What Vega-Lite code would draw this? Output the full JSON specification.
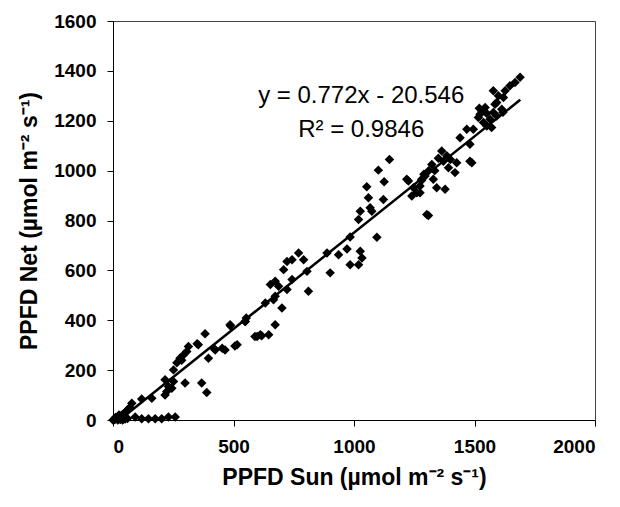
{
  "$schema": "https://vega.github.io/schema/vega-lite/v6.json",
  "autosize": "none",
  "width": 482,
  "height": 399,
  "padding": {"left": 113, "top": 21, "right": 25, "bottom": 87},
  "background": "white",
  "config": {
    "view": {"stroke": "#444", "strokeWidth": 1},
    "font": "Liberation Sans"
  },
  "datasets": {
    "pts": [
      {"sun":0,"net":0},{"sun":3,"net":0},{"sun":6,"net":2},{"sun":10,"net":4},{"sun":14,"net":6},{"sun":18,"net":8},{"sun":22,"net":10},{"sun":26,"net":12},{"sun":30,"net":15},{"sun":35,"net":18},{"sun":40,"net":22},{"sun":45,"net":25},{"sun":50,"net":30},{"sun":55,"net":34},{"sun":60,"net":40},{"sun":65,"net":45},{"sun":70,"net":50},{"sun":20,"net":0},{"sun":30,"net":2},{"sun":40,"net":0},{"sun":50,"net":4},{"sun":60,"net":6},{"sun":10,"net":10},{"sun":25,"net":20},{"sun":38,"net":5},
      {"sun":78,"net":67},{"sun":119,"net":84},{"sun":161,"net":87},{"sun":216,"net":100},{"sun":223,"net":114},{"sun":244,"net":127},{"sun":216,"net":161},{"sun":251,"net":201},{"sun":278,"net":248},{"sun":292,"net":261},{"sun":313,"net":295},{"sun":354,"net":302},{"sun":382,"net":346},{"sun":299,"net":148},{"sun":368,"net":148},{"sun":389,"net":110},{"sun":396,"net":248},{"sun":424,"net":281},{"sun":465,"net":281},{"sun":506,"net":297},{"sun":486,"net":382},{"sun":548,"net":395},{"sun":589,"net":335},{"sun":617,"net":338},
      {"sun":92,"net":12},{"sun":119,"net":5},{"sun":147,"net":5},{"sun":175,"net":5},{"sun":202,"net":5},{"sun":230,"net":12},{"sun":258,"net":12},
      {"sun":230,"net":134},{"sun":251,"net":154},{"sun":265,"net":230},{"sun":306,"net":275},{"sun":285,"net":240},
      {"sun":349,"net":306},{"sun":418,"net":288},{"sun":453,"net":288},{"sun":515,"net":302},{"sun":487,"net":378},{"sun":553,"net":409},{"sun":549,"net":395},{"sun":598,"net":335},{"sun":611,"net":342},{"sun":646,"net":342},{"sun":673,"net":382},{"sun":632,"net":469},{"sun":666,"net":482},{"sun":701,"net":449},{"sun":653,"net":543},{"sun":673,"net":556},{"sun":687,"net":536},{"sun":722,"net":523},{"sun":743,"net":563},{"sun":708,"net":603},{"sun":722,"net":636},{"sun":743,"net":643},{"sun":770,"net":670},{"sun":791,"net":643},{"sun":805,"net":596},{"sun":811,"net":516},{"sun":888,"net":670},{"sun":901,"net":590},
      {"sun":673,"net":496},{"sun":936,"net":663},{"sun":971,"net":686},{"sun":984,"net":734},{"sun":984,"net":623},{"sun":1026,"net":677},{"sun":1033,"net":650},{"sun":1019,"net":623},{"sun":1095,"net":733},{"sun":1019,"net":804},{"sun":1026,"net":837},{"sun":1067,"net":851},{"sun":1074,"net":837},{"sun":1060,"net":891},{"sun":1053,"net":935},{"sun":1122,"net":884},{"sun":1125,"net":955},{"sun":1101,"net":1002},{"sun":1147,"net":1045},{"sun":1226,"net":958},{"sun":1240,"net":898},{"sun":1261,"net":911},{"sun":1274,"net":938},{"sun":1295,"net":978},{"sun":1302,"net":824},{"sun":1280,"net":960},{"sun":1290,"net":985},
      {"sun":1219,"net":965},{"sun":1247,"net":931},{"sun":1274,"net":911},{"sun":1281,"net":965},{"sun":1323,"net":1025},{"sun":1329,"net":965},{"sun":1343,"net":931},{"sun":1364,"net":1079},{"sun":1371,"net":1038},{"sun":1378,"net":925},{"sun":1392,"net":1012},{"sun":1419,"net":992},{"sun":1426,"net":1032},{"sun":1440,"net":1132},{"sun":1468,"net":1166},{"sun":1481,"net":1106},{"sun":1481,"net":1038},{"sun":1309,"net":820},{"sun":1523,"net":1226},{"sun":1551,"net":1179},{"sun":1564,"net":1206},{"sun":1592,"net":1219},{"sun":1618,"net":1234},{"sun":1310,"net":1000},{"sun":1335,"net":1000},{"sun":1350,"net":1050},{"sun":1385,"net":1060},{"sun":1400,"net":1045},
      {"sun":1489,"net":1032},{"sun":1495,"net":1166},{"sun":1516,"net":1213},{"sun":1530,"net":1239},{"sun":1544,"net":1253},{"sun":1537,"net":1193},{"sun":1571,"net":1173},{"sun":1578,"net":1233},{"sun":1585,"net":1266},{"sun":1578,"net":1320},{"sun":1599,"net":1300},{"sun":1620,"net":1293},{"sun":1627,"net":1320},{"sun":1647,"net":1340},{"sun":1668,"net":1353},{"sun":1689,"net":1374},{"sun":1613,"net":1246},{"sun":1592,"net":1273},{"sun":1520,"net":1250},{"sun":1550,"net":1230}
    ],
    "fit": [{"sun":27,"net":0},{"sun":1690,"net":1284}],
    "eq": [
      {"sun":1030,"net":1298,"label":"y = 0.772x - 20.546"},
      {"sun":1030,"net":1162,"label":"R² = 0.9846"}
    ]
  },
  "encoding": {
    "x": {
      "field": "sun", "type": "quantitative",
      "scale": {"domain": [0, 2000], "nice": false, "zero": true},
      "axis": {
        "values": [0, 500, 1000, 1500, 2000], "format": "d",
        "title": "PPFD Sun (µmol m⁻² s⁻¹)",
        "grid": false, "domainColor": "black", "tickColor": "black",
        "tickSize": 6, "labelFontSize": 19, "labelFontWeight": "bold", "labelColor": "black",
        "labelPadding": 11, "labelFont": "Liberation Sans",
        "titleFont": "Liberation Sans", "titleFontSize": 23, "titleFontWeight": "bold", "titleColor": "black",
        "titlePadding": 10
      }
    },
    "y": {
      "field": "net", "type": "quantitative",
      "scale": {"domain": [0, 1600], "nice": false},
      "axis": {
        "values": [0, 200, 400, 600, 800, 1000, 1200, 1400, 1600], "format": "d",
        "title": "PPFD Net (µmol m⁻² s⁻¹)",
        "grid": false, "domainColor": "black", "tickColor": "black",
        "tickSize": 6, "labelFontSize": 19, "labelFontWeight": "bold", "labelColor": "black",
        "labelPadding": 11, "labelFont": "Liberation Sans",
        "titleFont": "Liberation Sans", "titleFontSize": 23, "titleFontWeight": "bold", "titleColor": "black",
        "titlePadding": 12
      }
    }
  },
  "layer": [
    {
      "data": {"name": "pts"},
      "mark": {"type": "point", "shape": "diamond", "filled": true, "color": "black", "size": 90, "opacity": 1}
    },
    {
      "data": {"name": "fit"},
      "mark": {"type": "line", "color": "black", "strokeWidth": 2.5},
      "encoding": {}
    },
    {
      "data": {"name": "eq"},
      "mark": {"type": "text", "font": "Liberation Sans", "fontSize": 24, "color": "black", "align": "center", "baseline": "middle"},
      "encoding": {"text": {"field": "label", "type": "nominal"}}
    }
  ]
}
